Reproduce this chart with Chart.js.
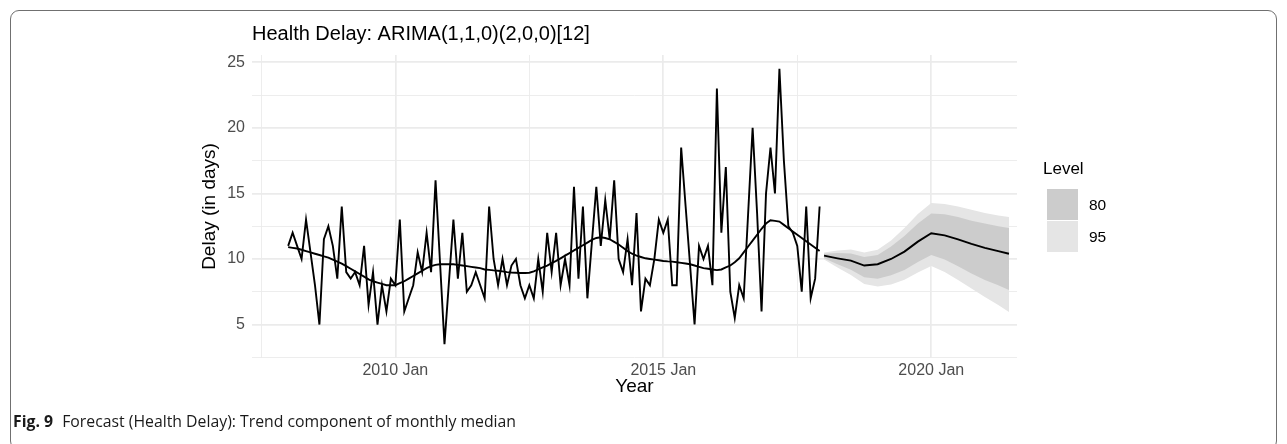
<!DOCTYPE html>
<html><head><meta charset="utf-8">
<script src="https://cdn.jsdelivr.net/npm/chart.js@4/dist/chart.umd.min.js"></script>
<style>
html,body{margin:0;padding:0;background:#fff;}
#wrap{position:relative;width:1287px;height:444px;overflow:hidden;font-family:"Liberation Sans",Arial,sans-serif;}
#frame{position:absolute;left:10px;top:10px;width:1267px;height:440px;border:1px solid #707070;border-radius:9px;box-sizing:border-box;}
#c{position:absolute;left:0;top:0;}
#legTitle{position:absolute;left:1043px;top:159px;font-size:17px;color:#000;}
.sw{position:absolute;left:1047px;width:31px;height:31px;}
.lab{position:absolute;left:1089px;font-size:15.5px;color:#000;}
#caption{position:absolute;left:13px;top:410px;font-family:"Open Sans",sans-serif;font-size:15.8px;color:#1a1a1a;white-space:nowrap;}
#caption b{font-weight:700;margin-right:5px;}
</style></head>
<body><div id="wrap">
<div id="frame"></div>
<canvas id="c" width="1287" height="444"></canvas>
<div id="legTitle">Level</div>
<div class="sw" style="top:189px;background:#cccccc"></div>
<div class="sw" style="top:221px;background:#e5e5e5"></div>
<div class="lab" style="top:196px">80</div>
<div class="lab" style="top:228px">95</div>
<div id="caption"><b>Fig. 9</b> Forecast (Health Delay): Trend component of monthly median</div>
</div>
<script>
// ---- data ----
const startYear = 2008; // monthly series starts Jan 2008
const observed = [
 11, 12, 11, 10, 13, 10.5, 8, 5, 11.5, 12.5, 11, 8.5,
 14, 9, 8.5, 9, 8, 11, 6.5, 9, 5, 8, 6, 8.5,
 8, 13, 6, 7, 8, 10.5, 9, 12, 9, 16, 9.75, 3.5,
 8.25, 13, 8.5, 12, 7.5, 8, 9, 8, 7, 14, 10, 8,
 10, 8, 9.5, 10, 8, 7, 8, 7, 10, 7.5, 12, 9,
 12, 8, 10, 8, 15.5, 8.5, 14, 7, 11.25, 15.5, 11, 14.5,
 11.5, 16, 10, 9, 11.5, 8, 13.5, 6, 8.5, 8, 10, 13,
 12, 13, 8, 8, 18.5, 14, 9.5, 5, 11, 10, 11, 8,
 23, 12, 17, 7.5, 5.5, 8, 7, 13.5, 20, 13.5, 6, 15,
 18.5, 15, 24.5, 17.5, 12.5, 12, 11, 7.5, 14, 7, 8.5, 14
];
const trend = [
 10.9, 10.85, 10.8, 10.7, 10.6, 10.5, 10.4, 10.3, 10.2, 10.1, 9.95, 9.8,
 9.65, 9.45, 9.25, 9.05, 8.85, 8.65, 8.45, 8.3, 8.2, 8.1, 8.0, 8.0,
 8.0, 8.15, 8.3, 8.5, 8.7, 8.9, 9.1, 9.3, 9.45, 9.55, 9.6, 9.6,
 9.6, 9.6, 9.55, 9.5, 9.45, 9.4, 9.35, 9.3, 9.2, 9.17, 9.13, 9.1,
 9.05, 9.0, 8.97, 8.95, 8.93, 8.93, 8.95, 9.05, 9.2, 9.35, 9.5, 9.68,
 9.85, 10.05, 10.25, 10.45, 10.65, 10.85, 11.05, 11.25, 11.45, 11.6, 11.65, 11.6,
 11.5, 11.3, 11.1, 10.85, 10.6, 10.4, 10.25, 10.15, 10.05, 10.0, 9.95, 9.9,
 9.85, 9.82, 9.8, 9.75, 9.7, 9.65, 9.6, 9.5, 9.4, 9.3, 9.25, 9.2,
 9.15, 9.2, 9.35, 9.5, 9.75, 10.05, 10.5, 10.95, 11.4, 11.85, 12.3, 12.7,
 12.95, 12.9, 12.85, 12.6, 12.35, 12.1, 11.85, 11.6, 11.35, 11.1, 10.85, 10.6
];
const fcYears = [2018, 2018.25, 2018.5, 2018.75, 2019, 2019.25, 2019.5, 2019.75, 2020, 2020.25, 2020.5, 2020.75, 2021, 2021.25, 2021.45];
const forecast = [10.25, 10.05, 9.87, 9.5, 9.6, 10.0, 10.56, 11.32, 11.96, 11.8, 11.5, 11.15, 10.85, 10.6, 10.4];
const hi95 = [10.5, 10.65, 10.72, 10.5, 10.7, 11.4, 12.36, 13.42, 14.26, 14.2, 14.0, 13.75, 13.5, 13.32, 13.2];
const lo95 = [9.95, 9.35, 8.77, 8.1, 7.9, 8.05, 8.41, 8.97, 9.46, 9.0, 8.4, 7.75, 7.1, 6.5, 5.95];
const hi80 = [10.4, 10.45, 10.42, 10.15, 10.3, 10.95, 11.76, 12.7, 13.46, 13.4, 13.2, 12.92, 12.7, 12.5, 12.37];
const lo80 = [10.05, 9.6, 9.17, 8.6, 8.5, 8.75, 9.16, 9.77, 10.31, 9.95, 9.45, 8.9, 8.4, 8.0, 7.63];
const xTickYears = [2010, 2015, 2020];
const xTickLabels = ['2010 Jan', '2015 Jan', '2020 Jan'];
const yTickValues = [5, 10, 15, 20, 25];

// ---- build ----
const monthX = i => startYear + i / 12;
const obsPts = observed.map((v, i) => ({x: monthX(i), y: v}));
const trendPts = trend.map((v, i) => ({x: monthX(i), y: v}));
const pts = arr => arr.map((v, i) => ({x: fcYears[i], y: v}));

const lineBase = {borderColor: '#000', borderWidth: 1.9, pointRadius: 0, fill: false, tension: 0, order: 0};
const bandBase = {borderWidth: 0, pointRadius: 0, tension: 0};

const X_MIN = 2007.325, X_MAX = 2021.6;
const Y_MIN = 2.45, Y_MAX = 25.55;
const FONT = '"Liberation Sans", Arial, sans-serif';

new Chart(document.getElementById('c'), {
  type: 'line',
  data: {datasets: [
    Object.assign({label: 'observed', data: obsPts}, lineBase),
    Object.assign({label: 'trend', data: trendPts}, lineBase),
    Object.assign({label: 'forecast', data: pts(forecast)}, lineBase),
    Object.assign({label: 'hi95', data: pts(hi95), fill: 4, backgroundColor: '#e5e5e5', borderColor: 'rgba(0,0,0,0)', order: 3}, bandBase),
    Object.assign({label: 'lo95', data: pts(lo95), fill: false, borderColor: 'rgba(0,0,0,0)', order: 3}, bandBase),
    Object.assign({label: 'hi80', data: pts(hi80), fill: 6, backgroundColor: '#cccccc', borderColor: 'rgba(0,0,0,0)', order: 2}, bandBase),
    Object.assign({label: 'lo80', data: pts(lo80), fill: false, borderColor: 'rgba(0,0,0,0)', order: 2}, bandBase)
  ]},
  options: {
    responsive: false, animation: false, devicePixelRatio: 1,
    layout: {padding: {left: 196, top: 10, right: 1287 - 1017, bottom: 45.5}},
    plugins: {
      legend: {display: false}, tooltip: {enabled: false},
      title: {display: true, fullSize: false, align: 'start', text: 'Health Delay: ARIMA(1,1,0)(2,0,0)[12]',
        color: '#000', font: {family: FONT, size: 20, weight: 'normal'},
        padding: {top: 12, bottom: 9}}
    },
    scales: {
      x: {type: 'linear', min: X_MIN, max: X_MAX,
        afterBuildTicks: s => { s.ticks = [2007.5, 2010, 2012.5, 2015, 2017.5, 2020].map(v => ({value: v})); },
        afterFit: s => { s.height = 40.5; },
        ticks: {autoSkip: false, maxRotation: 0, color: '#4d4d4d', padding: 3,
          font: {family: FONT, size: 16},
          callback: v => { const i = xTickYears.indexOf(v); return i >= 0 ? xTickLabels[i] : ''; }},
        grid: {drawTicks: false, color: '#ebebeb', lineWidth: c => (c.tick && xTickYears.includes(c.tick.value)) ? 1.7 : 0.9},
        border: {display: false},
        title: {display: true, text: 'Year', color: '#000', padding: {top: 0, bottom: 0.6},
          font: {family: FONT, size: 19}}
      },
      y: {type: 'linear', min: Y_MIN, max: Y_MAX,
        afterBuildTicks: s => { s.ticks = [2.5, 5, 7.5, 10, 12.5, 15, 17.5, 20, 22.5, 25].map(v => ({value: v})); },
        afterFit: s => { s.width = 252 - 196; },
        ticks: {autoSkip: false, color: '#4d4d4d', padding: 7,
          font: {family: FONT, size: 16},
          callback: v => yTickValues.includes(v) ? String(v) : ''},
        grid: {drawTicks: false, color: '#ebebeb', lineWidth: c => (c.tick && yTickValues.includes(c.tick.value)) ? 1.7 : 0.9},
        border: {display: false},
        title: {display: true, text: 'Delay (in days)', color: '#000', padding: {top: 2.6, bottom: 0},
          font: {family: FONT, size: 19}}
      }
    }
  }
});
</script>
</body></html>
